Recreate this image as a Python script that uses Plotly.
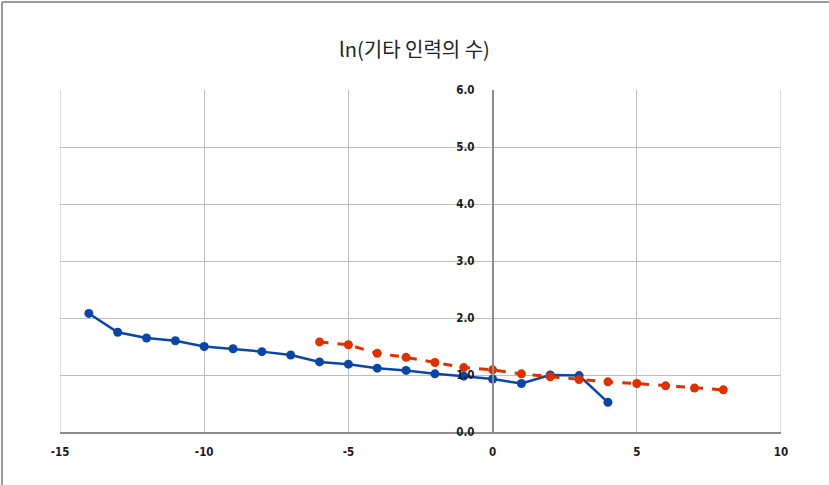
import plotly.graph_objects as go

blue_x = [-14, -13, -12, -11, -10, -9, -8, -7, -6, -5, -4, -3, -2, -1, 0, 1, 2, 3, 4]
blue_y = [2.08, 1.75, 1.65, 1.60, 1.50, 1.46, 1.41, 1.35, 1.23, 1.19, 1.12, 1.08, 1.02, 0.98, 0.93, 0.85, 1.00, 0.99, 0.52]
red_x = [-6, -5, -4, -3, -2, -1, 0, 1, 2, 3, 4, 5, 6, 7, 8]
red_y = [1.58, 1.53, 1.38, 1.31, 1.22, 1.13, 1.09, 1.02, 0.97, 0.92, 0.88, 0.85, 0.81, 0.77, 0.74]
x_ticks = [-15, -10, -5, 0, 5, 10]
y_ticks = [0, 1, 2, 3, 4, 5, 6]
title_text = "ln(기타 인력의 수)"

W, H = 829, 485
L, R, T, B = 60, 48, 90, 53
PW, PH = W - L - R, H - T - B

fig = go.Figure()
fig.add_trace(go.Scatter(
    x=blue_x, y=blue_y, mode="lines+markers",
    line=dict(color="#0b45a6", width=2.5),
    marker=dict(color="#0b45a6", size=9),
    showlegend=False,
))
fig.add_trace(go.Scatter(
    x=red_x, y=red_y, mode="lines+markers",
    line=dict(color="#dd3100", width=3, dash="dash"),
    marker=dict(color="#dd3100", size=9),
    showlegend=False,
))

xmin, xmax = -15, 10
ypos = (0 - xmin) / (xmax - xmin)
tfont = dict(size=11.5, family="DejaVu Sans Condensed", weight="bold", color="#1a1a1a")

fig.update_layout(
    width=W, height=H,
    margin=dict(l=L, r=R, t=T, b=B),
    paper_bgcolor="white", plot_bgcolor="white",
    title=dict(text=title_text, x=0.5, xanchor="center", y=1 - 50 / H, yanchor="middle",
               font=dict(family="Noto Sans CJK KR", size=20, color="#222222")),
    font=dict(family="DejaVu Sans", size=11, color="#222222"),
    xaxis=dict(
        range=[xmin, xmax], tickvals=x_ticks, ticktext=[str(v) for v in x_ticks],
        showgrid=True, gridcolor="#bdbdbd", gridwidth=1,
        zeroline=False, showline=True, linecolor="#8c8c8c", linewidth=1.5,
        ticks="", ticklabelstandoff=8, tickfont=tfont,
        anchor="y", domain=[0, 1],
    ),
    yaxis=dict(
        range=[0, 6], tickvals=y_ticks, ticktext=[f"{v:.1f}" for v in y_ticks],
        showgrid=True, gridcolor="#bdbdbd", gridwidth=1,
        zeroline=False, showline=True, linecolor="#8c8c8c", linewidth=1.5,
        anchor="free", position=ypos, ticks="", ticklabelstandoff=15,
        tickfont=tfont,
    ),
    shapes=[
        dict(type="line", xref="x", yref="paper", x0=xmin, x1=xmin, y0=0, y1=1,
             line=dict(color="#bdbdbd", width=1), layer="below"),
        dict(type="line", xref="x", yref="paper", x0=xmax, x1=xmax, y0=0, y1=1,
             line=dict(color="#bdbdbd", width=1), layer="below"),
        dict(type="line", xref="paper", yref="paper",
             x0=(2 - L) / PW, x1=(W + 5 - L) / PW,
             y0=(H - B - 2) / PH, y1=(H - B - 2) / PH,
             line=dict(color="#7a7a7a", width=1.5)),
        dict(type="line", xref="paper", yref="paper",
             x0=(2 - L) / PW, x1=(2 - L) / PW,
             y0=(H - B - 2) / PH, y1=(H - B - 495) / PH,
             line=dict(color="#7a7a7a", width=1.5)),
    ],
)

fig.write_html("out.html", config={"displayModeBar": False},
               post_script="document.body.style.margin='0';")
